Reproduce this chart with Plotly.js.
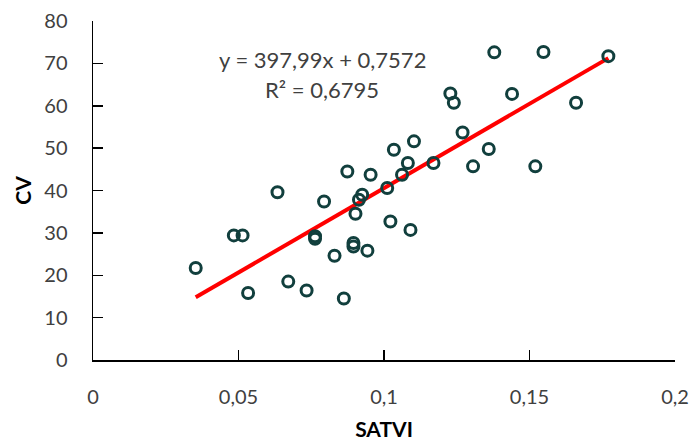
<!DOCTYPE html>
<html>
<head>
<meta charset="utf-8">
<script src="https://cdn.plot.ly/plotly-3.0.1.min.js"></script>
<style>html,body{margin:0;padding:0;background:#fff;}#chart{width:691px;height:441px;}</style>
</head>
<body>
<div id="chart"></div>
<script>
const satvi = [0.0353, 0.0484, 0.0514, 0.0533, 0.0634, 0.0671, 0.0734, 0.0794, 0.0763, 0.0763,
  0.0830, 0.0862, 0.0874, 0.0895, 0.0895, 0.0943, 0.0902, 0.0914, 0.0925, 0.0954,
  0.1011, 0.1022, 0.1034, 0.1091, 0.1062, 0.1082, 0.1103, 0.1170, 0.1270, 0.1306,
  0.1228, 0.1240, 0.1379, 0.1548, 0.1440, 0.1360, 0.1520, 0.1660, 0.1771];
const cv = [21.7, 29.4, 29.4, 15.8, 39.6, 18.5, 16.4, 37.4, 29.2, 28.6,
  24.6, 14.5, 44.5, 27.6, 26.8, 25.8, 34.5, 37.8, 39.0, 43.7,
  40.6, 32.7, 49.6, 30.7, 43.7, 46.5, 51.6, 46.5, 53.7, 45.7,
  62.9, 60.7, 72.6, 72.7, 62.8, 49.8, 45.7, 60.7, 71.7];
const trendSlope = 397.99;
const trendIntercept = 0.7572;
const equationText = "y = 397,99x + 0,7572";
const r2Text = "R² = 0,6795";

const xMin = Math.min(...satvi), xMax = Math.max(...satvi);
const trendX = [xMin, xMax];
const trendY = trendX.map(x => trendSlope * x + trendIntercept);

const tickFont = {family: "Lato, 'Open Sans', sans-serif", size: 20, color: "#404040"};
const annFont = {family: "Lato, 'Open Sans', sans-serif", size: 22, color: "#404040"};
const titleFont = {family: "Lato, 'Open Sans', sans-serif", size: 21, color: "#000"};
const data = [
  {x: trendX, y: trendY, mode: "lines", type: "scatter",
   line: {color: "#ff0000", width: 4}, hoverinfo: "skip"},
  {x: satvi, y: cv, mode: "markers", type: "scatter",
   marker: {symbol: "circle-open", size: 11, color: "#113f3d", line: {width: 3, color: "#113f3d"}}}
];
const layout = {
  width: 691, height: 441,
  margin: {l: 93, r: 16, t: 21, b: 81},
  paper_bgcolor: "#fff", plot_bgcolor: "#fff",
  showlegend: false,
  separators: ", ",
  xaxis: {range: [0, 0.2], dtick: 0.05, tick0: 0, showgrid: false, zeroline: false,
    showline: true, linecolor: "#000", linewidth: 1.5,
    ticks: "inside", ticklen: 10, tickwidth: 1.5, tickcolor: "#000",
    tickfont: tickFont, ticklabelstandoff: 18,
    title: {text: "<b>SATVI</b>", font: titleFont, standoff: 20},
    automargin: false},
  yaxis: {range: [0, 80], dtick: 10, showgrid: false, zeroline: false,
    showline: true, linecolor: "#000", linewidth: 1.5,
    ticks: "inside", ticklen: 10, tickwidth: 1.5, tickcolor: "#000",
    tickfont: tickFont, ticklabelstandoff: 20,
    title: {text: "<b>CV</b>", font: titleFont, standoff: 7},
    automargin: false},
  annotations: [
    {xref: "paper", yref: "paper", x: (322 - 93) / 582, y: (360 - 60) / 339, text: equationText,
     showarrow: false, font: annFont, xanchor: "center", yanchor: "middle"},
    {xref: "paper", yref: "paper", x: (322 - 93) / 582, y: (360 - 89) / 339, text: r2Text,
     showarrow: false, font: annFont, xanchor: "center", yanchor: "middle"}
  ]
};
Plotly.newPlot("chart", data, layout, {displayModeBar: false, staticPlot: true});
</script>
</body>
</html>
